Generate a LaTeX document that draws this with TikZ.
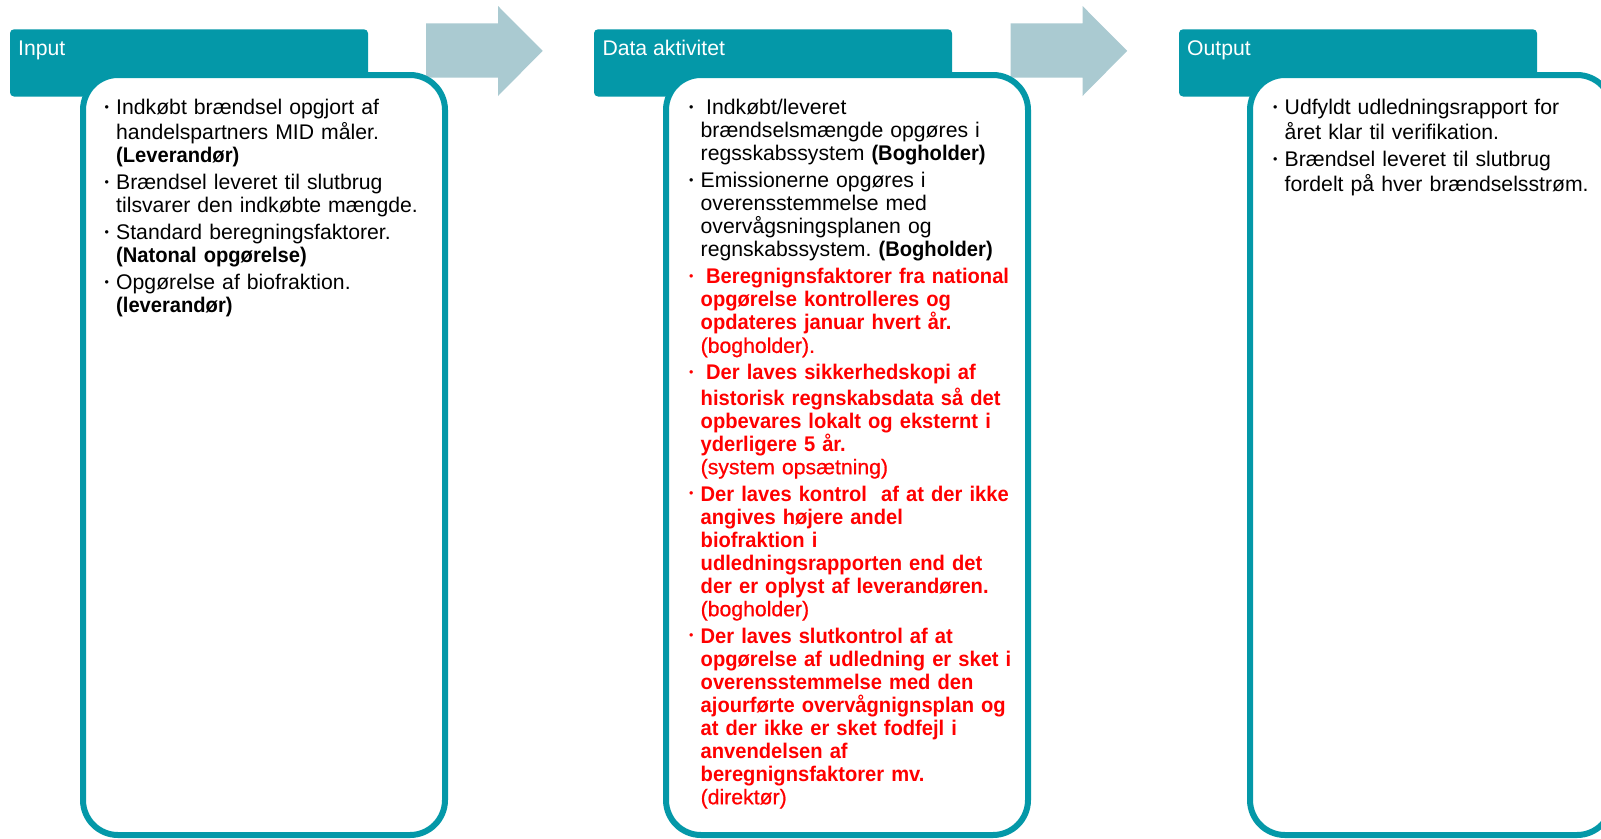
\documentclass[tikz,border=0pt]{standalone}
\usepackage{fontspec}
\setmainfont{Liberation Sans}[BoldFeatures={FakeStretch=0.95}]
\newfontfamily\mediumfont{Liberation Sans}[FakeBold=0.7]
\definecolor{hdrteal}{HTML}{0498A8}
\definecolor{flowblue}{HTML}{AACAD1}
\definecolor{listred}{HTML}{FF0000}

% list typography
\newcommand{\listfont}{\fontsize{21.2}{23}\selectfont\frenchspacing}
\newcommand{\who}[1]{{\mediumfont #1}}
\newlength{\bulind}\setlength{\bulind}{11.5pt}
\newcommand{\bulletmark}{\raisebox{3.3pt}{\fontsize{12.5}{12.5}\selectfont\char"2022}}
\newcommand{\entry}[1]{\par\noindent\hangindent=\bulind\hangafter=1\strut\makebox[\bulind][l]{\bulletmark}#1\par}

\begin{document}
\begin{tikzpicture}[x=1pt,y=-1pt,
  hdr/.style={fill=hdrteal, rounded corners=4pt, inner sep=0pt, outer sep=0pt,
    minimum width=358pt, minimum height=67.2pt, anchor=north west},
  hdrlabel/.style={text=white, font=\listfont, anchor=base west, inner sep=0pt},
  panel/.style={draw=hdrteal, line width=6pt, fill=white, rounded corners=35pt,
    minimum width=362pt, minimum height=760pt, inner sep=0pt, outer sep=0pt,
    anchor=north west},
  list/.style={anchor=north west, inner sep=0pt, text width=400pt,
    font=\listfont\setlength{\parskip}{4pt}},
  flow/.style={fill=flowblue}
]
\useasboundingbox (0,0) rectangle (1601,838);
\clip (0,0) rectangle (1601,838);
\fill[white] (0,0) rectangle (1601,838);

% block arrows between the stages
\fill[flow] (426,23.3) -- (498,23.3) -- (498,6) -- (542.7,50.8) -- (498,96)
  -- (498,77.7) -- (426,77.7) -- cycle;
\fill[flow] (1010.5,23.3) -- (1082.5,23.3) -- (1082.5,6) -- (1127.2,50.8)
  -- (1082.5,96) -- (1082.5,77.7) -- (1010.5,77.7) -- cycle;

% stage headers
\node[hdr] (h1) at (10,29.3) {};
\node[hdr] (h2) at (594,29.3) {};
\node[hdr] (h3) at (1179,29.3) {};
\node[hdrlabel] (l1) at (18,55.3) {Input};
\node[hdrlabel] (l2) at (602.3,55.3) {Data aktivitet};
\node[hdrlabel] (l3) at (1187,55.3) {Output};

% content panels
\node[panel] (p1) at (83,75) {};
\node[panel] (p2) at (666,75) {};
\node[panel] (p3) at (1250,75) {};

% panel texts
\node[list] (t1) at (104.5,87.7) {%
\entry{Indkøbt brændsel opgjort af\newline handelspartners MID måler.\newline \textbf{(Leverandør)}}%
\entry{Brændsel leveret til slutbrug\newline tilsvarer den indkøbte mængde.}%
\entry{Standard beregningsfaktorer.\newline \textbf{(Natonal opgørelse)}}%
\entry{Opgørelse af biofraktion.\newline \textbf{(leverandør)}}};

\node[list] (t2) at (689,87.7) {%
\entry{\hspace*{5.5pt}Indkøbt/leveret\newline brændselsmængde opgøres i\newline regsskabssystem \textbf{(Bogholder)}}%
\entry{Emissionerne opgøres i\newline overensstemmelse med\newline overvågsningsplanen og\newline regnskabssystem. \textbf{(Bogholder)}}%
\color{listred}%
\entry{\hspace*{5.5pt}\textbf{Beregnignsfaktorer fra national\newline opgørelse kontrolleres og\newline opdateres januar hvert år.}\newline \who{(bogholder).}}%
\entry{\hspace*{5.5pt}\textbf{Der laves sikkerhedskopi af\newline historisk regnskabsdata så det\newline opbevares lokalt og eksternt i\newline yderligere 5 år.}\newline \who{(system opsætning)}}%
\entry{\textbf{Der laves kontrol\ \ af at der ikke\newline angives højere andel\newline biofraktion i\newline udledningsrapporten end det\newline der er oplyst af leverandøren.}\newline \who{(bogholder)}}%
\entry{\textbf{Der laves slutkontrol af at\newline opgørelse af udledning er sket i\newline overensstemmelse med den\newline ajourførte overvågnignsplan og\newline at der ikke er sket fodfejl i\newline anvendelsen af\newline beregnignsfaktorer mv.}\newline \who{(direktør)}}};

\node[list] (t3) at (1273,87.7) {%
\entry{Udfyldt udledningsrapport for\newline året klar til verifikation.}%
\entry{Brændsel leveret til slutbrug\newline fordelt på hver brændselsstrøm.}};
\end{tikzpicture}
\end{document}
